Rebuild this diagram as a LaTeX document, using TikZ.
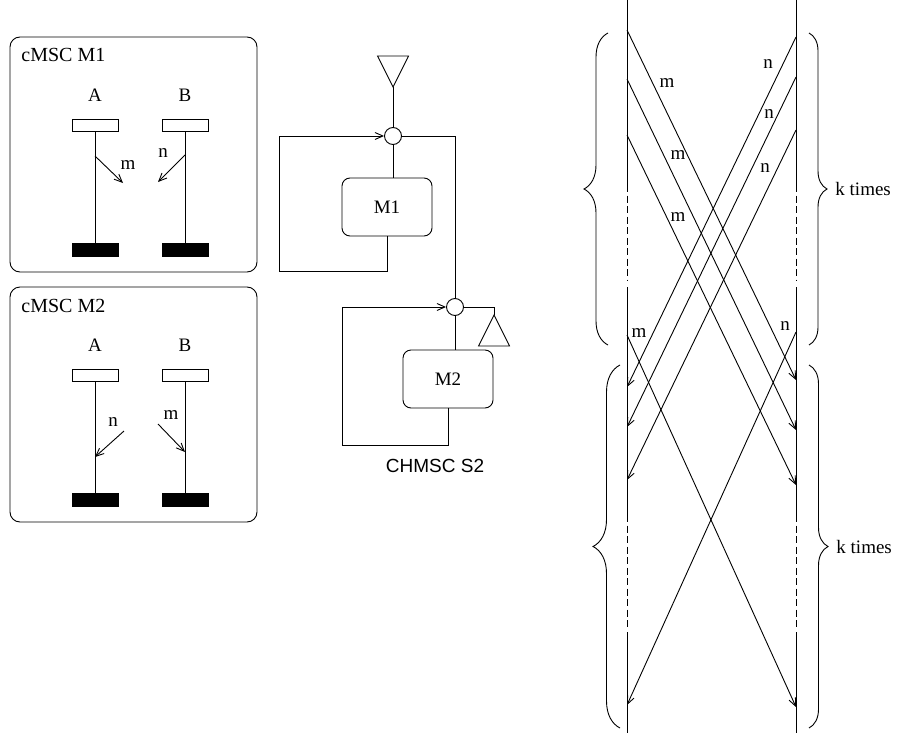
\documentclass[tikz,border=0pt]{standalone}
\usepackage{fontspec}
\setmainfont{Liberation Serif}
\setsansfont{Liberation Sans}
\usepackage{tikz}
\usetikzlibrary{positioning,arrows.meta,shapes.geometric,decorations.pathreplacing,calc}
\newcommand{\lblfont}{\fontsize{19}{22}\selectfont}
\newcommand{\boxfont}{\fontsize{20}{23}\selectfont}
\newcommand{\chartfont}{\sffamily\fontsize{19}{22}\selectfont}

\begin{document}
\begin{tikzpicture}[x=1pt, y=-1pt, line width=0.9pt,
  msg/.style={-{Straight Barb[length=8pt,width=7pt]}},
  headbox/.style={draw, minimum width=46pt, minimum height=12pt, inner sep=0pt},
  tailbox/.style={draw, fill=black, minimum width=46pt, minimum height=13pt, inner sep=0pt},
  modbox/.style={draw, rounded corners=8pt, minimum width=90pt, minimum height=58pt, font=\lblfont},
  junction/.style={draw, circle, minimum size=17pt, inner sep=0pt},
  termtri/.style={draw, isosceles triangle, isosceles triangle stretches,
    minimum width=31pt, minimum height=31pt, inner sep=0pt, outer sep=0pt},
  lbl/.style={font=\lblfont, inner sep=1pt},
  gaps/.style={dash pattern=on 7pt off 3.5pt},
  kbrace/.style={decorate, decoration={brace, amplitude=#1}},
]
  \useasboundingbox (0,0) rectangle (917,733);

  \foreach \i/\dy in {1/0, 2/250} {
    \draw[rounded corners=10pt] (10,37+\dy) rectangle (257,272+\dy);
    \node[font=\boxfont, inner sep=1pt, anchor=base west] (title\i) at (20,62+\dy) {cMSC M\i};
    \node[lbl] (instA\i) at (95,95+\dy) {A};
    \node[lbl] (instB\i) at (185,95+\dy) {B};
    \node[headbox] (headA\i) at (95,125+\dy) {};
    \node[headbox] (headB\i) at (185,125+\dy) {};
    \node[tailbox] (endA\i) at (95,250+\dy) {};
    \node[tailbox] (endB\i) at (185,250+\dy) {};
    \draw (headA\i) -- (endA\i);
    \draw (headB\i) -- (endB\i);
  }

  \coordinate (sndA1) at (95,156);  \coordinate (rcvA1) at (123,183);
  \coordinate (sndB1) at (185,155); \coordinate (rcvB1) at (158,182);
  \draw[msg] (sndA1) -- (rcvA1);
  \draw[msg] (sndB1) -- (rcvB1);
  \node[lbl] (labm1) at (128,165) {m};
  \node[lbl] (labn1) at (163,153) {n};

  \coordinate (sndA2) at (124,431); \coordinate (rcvA2) at (95,457);
  \coordinate (sndB2) at (158,424); \coordinate (rcvB2) at (185,452);
  \draw[msg] (sndA2) -- (rcvA2);
  \draw[msg] (sndB2) -- (rcvB2);
  \node[lbl] (labn2) at (113,422) {n};
  \node[lbl] (labm2) at (171,415) {m};

  \node[termtri, shape border rotate=270, anchor=apex] (start) at (393,87) {};
  \node[junction] (join1) at (393,136) {};
  \node[modbox] (M1) at (387,207) {M1};
  \node[junction] (join2) at (455,307) {};
  \node[modbox] (M2) at (448,379) {M2};
  \node[termtri, shape border rotate=90, anchor=apex] (stop) at (494,315) {};
  \coordinate (loop1) at (279,271);
  \coordinate (loop2) at (342,445);
  \draw (start.apex) -- (join1);
  \draw (join1) -- (join1 |- M1.north);
  \draw[msg] (M1.south) |- (loop1) |- (join1.west);
  \draw (join1.east) -| (join2.north);
  \draw (join2) -- (join2 |- M2.north);
  \draw[msg] (M2.south) |- (loop2) |- (join2.west);
  \draw (join2.east) -| (stop.apex);
  \node[font=\chartfont] (chart) at (435,466) {CHMSC S2};

  \foreach \x in {627,796} {
    \draw (\x,0) -- (\x,185);
    \draw[gaps] (\x,185) -- (\x,281);
    \draw (\x,287) -- (\x,515);
    \draw[gaps] (\x,515) -- (\x,627);
    \draw (\x,632) -- (\x,733);
  }

  \foreach \i/\s/\e/\lx/\ly in {1/30/380/667/83, 2/79/430/678/155, 3/135/485/678/217, 4/335/707/639/333} {
    \coordinate (mfrom\i) at (627,\s);
    \coordinate (mto\i) at (796,\e);
    \draw[msg] (mfrom\i) -- (mto\i);
    \node[lbl] (mlab\i) at (\lx,\ly) {m};
  }
  \foreach \i/\s/\e/\lx/\ly in {1/37/387/768/64, 2/77/427/769/114, 3/130/480/765/168, 4/332/705/785/326} {
    \coordinate (nfrom\i) at (796,\s);
    \coordinate (nto\i) at (627,\e);
    \draw[msg] (nfrom\i) -- (nto\i);
    \node[lbl] (nlab\i) at (\lx,\ly) {n};
  }

  \draw[kbrace=24pt] (608,345) -- (608,33);
  \draw[kbrace=27pt] (620,728) -- (620,365);
  \draw[kbrace=18pt] (809,33) -- (809,345) node[lbl, midway, right=25pt] (k1) {k times};
  \draw[kbrace=19pt] (809,365) -- (809,728) node[lbl, midway, right=26pt] (k2) {k times};
\end{tikzpicture}
\end{document}
